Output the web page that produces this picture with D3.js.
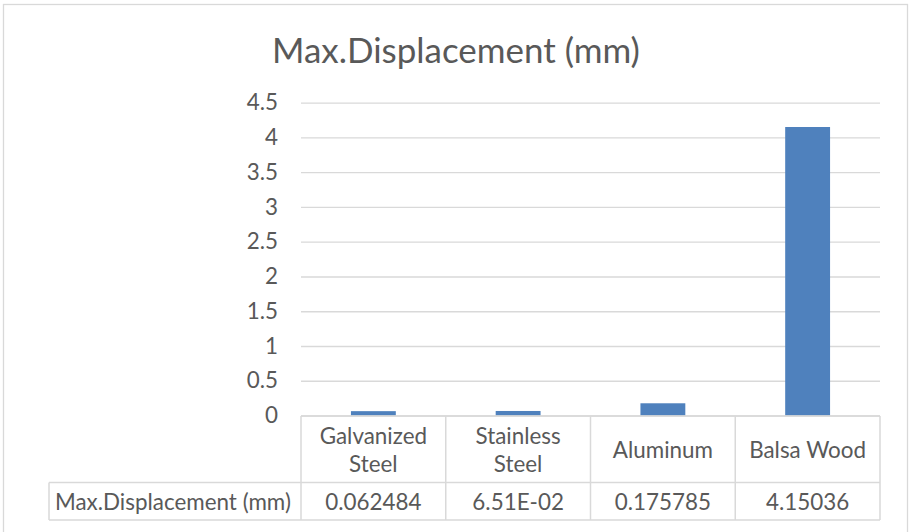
<!DOCTYPE html>
<html>
<head>
<meta charset="utf-8">
<script src="https://cdn.jsdelivr.net/npm/d3@7"></script>
<style>
  html, body { margin: 0; padding: 0; background: #fff; }
  svg { display: block; }
</style>
</head>
<body>
<svg id="chart" width="909" height="532"></svg>
<script>
// ---- data ----
const title = "Max.Displacement (mm)";
const seriesName = "Max.Displacement (mm)";
const categories = ["Galvanized Steel", "Stainless Steel", "Aluminum", "Balsa Wood"];
const values = [0.062484, 0.0651, 0.175785, 4.15036];
const valueLabels = ["0.062484", "6.51E-02", "0.175785", "4.15036"];
const yTicks = [0, 0.5, 1, 1.5, 2, 2.5, 3, 3.5, 4, 4.5];
const yTickLabels = ["0", "0.5", "1", "1.5", "2", "2.5", "3", "3.5", "4", "4.5"];

// ---- layout ----
const W = 909, H = 532;
const FONT = "Lato, 'Open Sans', sans-serif";
const TEXT = "#595959", GRID = "#d9d9d9", BAR = "#4f81bd";
const plotLeft = 301, plotRight = 880;
const yZero = 415.5, yTop = 102.7;
const row1Bottom = 482.5, row2Bottom = 520, tableLeft = 49;

const svg = d3.select("#chart");

// measure helper for font fitting
function measure(str, size) {
  const t = svg.append("text").attr("font-family", FONT).attr("font-size", size).text(str);
  const w = t.node().getComputedTextLength();
  t.remove();
  return w;
}
const bodySize = Math.min(23, 100 * 236 / measure(seriesName, 100));
const titleSize = 100 * 368 / measure(title, 100);

// chart frame
svg.append("rect")
  .attr("x", 3.5).attr("y", 4.5).attr("width", 904).attr("height", 560)
  .attr("fill", "#fff").attr("stroke", GRID).attr("stroke-width", 1.3);

// title
svg.append("text")
  .attr("x", (272 + 640) / 2).attr("y", 49)
  .attr("text-anchor", "middle").attr("dominant-baseline", "central")
  .attr("font-family", FONT).attr("font-size", titleSize).attr("fill", TEXT)
  .text(title);

// scales
const x = d3.scaleBand().domain(categories).range([plotLeft, plotRight]).padding(0);
const y = d3.scaleLinear().domain([0, 4.5]).range([yZero, yTop]);

// y axis with gridlines
const yAxis = d3.axisLeft(y)
  .tickValues(yTicks)
  .tickFormat((d, i) => yTickLabels[i])
  .tickSize(-(plotRight - plotLeft))
  .tickPadding(23);
const gy = svg.append("g").attr("transform", `translate(${plotLeft},0)`).call(yAxis);
gy.select(".domain").remove();
gy.selectAll(".tick line").attr("stroke", GRID).attr("stroke-width", 1.3);
gy.selectAll(".tick text")
  .attr("font-family", FONT).attr("font-size", bodySize).attr("fill", TEXT);

// bars
const barW = x.bandwidth() * 0.31;
svg.append("g").selectAll("rect").data(values).join("rect")
  .attr("x", (d, i) => x(categories[i]) + (x.bandwidth() - barW) / 2)
  .attr("width", barW)
  .attr("y", d => y(d))
  .attr("height", d => y(0) - y(d))
  .attr("fill", BAR);

// data table grid
const tg = svg.append("g").attr("stroke", GRID).attr("stroke-width", 1.5).attr("fill", "none");
tg.append("line").attr("x1", plotLeft).attr("x2", plotRight).attr("y1", yZero + 0.5).attr("y2", yZero + 0.5);
tg.append("line").attr("x1", tableLeft).attr("x2", plotRight).attr("y1", row1Bottom).attr("y2", row1Bottom);
tg.append("line").attr("x1", tableLeft).attr("x2", plotRight).attr("y1", row2Bottom).attr("y2", row2Bottom);
tg.append("line").attr("x1", tableLeft).attr("x2", tableLeft).attr("y1", row1Bottom).attr("y2", row2Bottom);
const edges = categories.map(c => x(c)).concat([plotRight]);
edges.forEach(e => {
  tg.append("line").attr("x1", e).attr("x2", e).attr("y1", yZero + 0.5).attr("y2", row2Bottom);
});

// category labels (wrapped to column width)
const colPad = 10;
categories.forEach((c, i) => {
  const cx = x(c) + x.bandwidth() / 2;
  let lines = [c];
  if (measure(c, bodySize) > x.bandwidth() - colPad * 2) lines = c.split(" ");
  const lh = 28;
  const cy = (yZero + row1Bottom) / 2;
  lines.forEach((ln, j) => {
    svg.append("text")
      .attr("x", cx).attr("y", cy + (j - (lines.length - 1) / 2) * lh)
      .attr("text-anchor", "middle").attr("dominant-baseline", "central")
      .attr("font-family", FONT).attr("font-size", bodySize).attr("fill", TEXT)
      .text(ln);
  });
});

// value row
const rowCy = (row1Bottom + row2Bottom) / 2;
svg.append("text")
  .attr("x", 55).attr("y", rowCy)
  .attr("dominant-baseline", "central")
  .attr("font-family", FONT).attr("font-size", bodySize).attr("fill", TEXT)
  .text(seriesName);
valueLabels.forEach((v, i) => {
  svg.append("text")
    .attr("x", x(categories[i]) + x.bandwidth() / 2).attr("y", rowCy)
    .attr("text-anchor", "middle").attr("dominant-baseline", "central")
    .attr("font-family", FONT).attr("font-size", bodySize).attr("fill", TEXT)
    .text(v);
});
</script>
</body>
</html>
